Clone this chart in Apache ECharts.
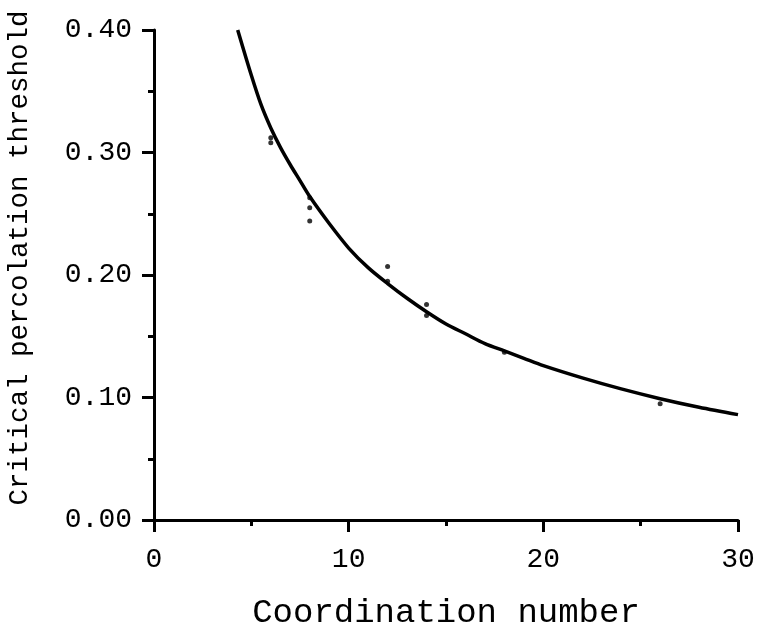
<!DOCTYPE html>
<html>
<head>
<meta charset="utf-8">
<script src="https://cdn.jsdelivr.net/npm/echarts@6/dist/echarts.min.js"></script>
<style>
html,body{margin:0;padding:0;background:#fff;}
#chart{width:758px;height:631px;}
</style>
</head>
<body>
<div id="chart"></div>
<script>
// Fitted curve
var curveZ = [4.3, 5, 5.5, 6, 6.5, 7, 7.5, 8, 9, 10, 11, 12, 13, 14, 15, 16, 17, 18, 19, 20, 22, 24, 26, 28, 30];
var curvePc = [0.400, 0.363, 0.339, 0.320, 0.304, 0.290, 0.277, 0.264, 0.242, 0.222, 0.206, 0.193, 0.181, 0.170, 0.160, 0.152, 0.144, 0.138, 0.132, 0.126, 0.116, 0.107, 0.099, 0.092, 0.086];
// Measured points
var pointZ = [6, 6, 8, 8, 8, 12, 12, 14, 14, 18, 26];
var pointPc = [0.312, 0.308, 0.263, 0.255, 0.244, 0.207, 0.195, 0.176, 0.167, 0.137, 0.095];
// Axis ticks
var xTicks = [0, 10, 20, 30];
var yTicks = [0.00, 0.10, 0.20, 0.30, 0.40];

var font = '"Liberation Mono", "DejaVu Sans Mono", monospace';
var chart = echarts.init(document.getElementById('chart'), null, {renderer: 'canvas'});
chart.setOption({
  backgroundColor: '#fff',
  animation: false,
  grid: {left: 154, right: 20, top: 30, bottom: 111, containLabel: false, outerBoundsMode: 'none'},
  xAxis: {
    type: 'value',
    min: xTicks[0], max: xTicks[xTicks.length - 1], interval: 10,
    name: 'Coordination number',
    nameLocation: 'middle',
    nameGap: 76,
    nameTextStyle: {fontFamily: font, fontSize: 34, color: '#000'},
    axisLine: {show: true, lineStyle: {color: '#000', width: 3}},
    axisTick: {show: true, length: 12, lineStyle: {color: '#000', width: 3}},
    minorTick: {show: true, splitNumber: 2, length: 6, lineStyle: {color: '#000', width: 3}},
    splitLine: {show: false},
    axisLabel: {fontFamily: font, fontSize: 28, color: '#000', margin: 26}
  },
  yAxis: {
    type: 'value',
    min: yTicks[0], max: yTicks[yTicks.length - 1], interval: 0.1,
    name: 'Critical percolation threshold',
    nameLocation: 'middle',
    nameGap: 120,
    nameTextStyle: {fontFamily: font, fontSize: 27.5, color: '#000', padding: [0, 0, 0, 34]},
    axisLine: {show: true, lineStyle: {color: '#000', width: 3}},
    axisTick: {show: true, length: 12, lineStyle: {color: '#000', width: 3}},
    minorTick: {show: true, splitNumber: 2, length: 6, lineStyle: {color: '#000', width: 3}},
    splitLine: {show: false},
    axisLabel: {fontFamily: font, fontSize: 28, color: '#000', margin: 22,
      formatter: function (v) { return v.toFixed(2); }}
  },
  series: [
    {
      type: 'line',
      data: curveZ.map(function (z, i) { return [z, curvePc[i]]; }),
      smooth: 0.3,
      showSymbol: false,
      lineStyle: {color: '#000', width: 3.5},
      clip: false
    },
    {
      type: 'scatter',
      data: pointZ.map(function (z, i) { return [z, pointPc[i]]; }),
      symbol: 'circle',
      symbolSize: 5,
      itemStyle: {color: '#000'}
    }
  ]
});
</script>
</body>
</html>
